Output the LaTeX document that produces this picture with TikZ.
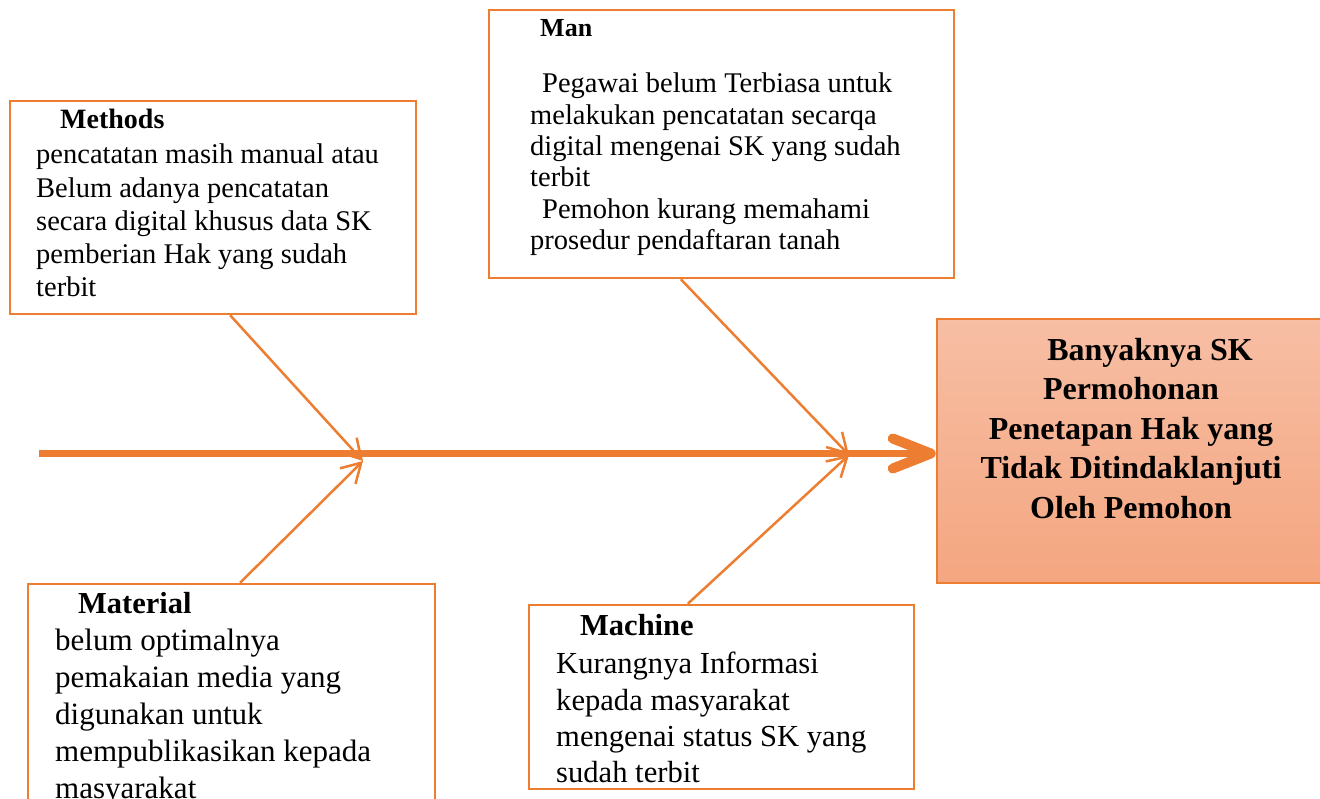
\documentclass[tikz,border=0pt]{standalone}
\usepackage{fontspec}
\setmainfont{Liberation Serif}
\usetikzlibrary{arrows.meta,calc}
\definecolor{fishorange}{HTML}{ED7D31}
\definecolor{headtop}{HTML}{F7BEA4}
\definecolor{headbot}{HTML}{F4A680}
\newcommand{\fsz}[2]{\fontsize{#1}{#2}\selectfont}

\begin{document}
\begin{tikzpicture}[x=1pt,y=-1pt,
  causebox/.style={draw=fishorange, line width=2.5pt, fill=white, inner sep=0pt},
  catlabel/.style={anchor=base west, inner sep=0pt, font=\bfseries},
  causetext/.style={anchor=north west, inner sep=0pt, align=left},
  bone/.style={fishorange, line width=2.5pt, -{Straight Barb[length=19pt,width=22pt]}},
  spine/.style={fishorange, line width=7pt, -{Straight Barb[length=38pt,width=30pt,line width=10pt,round]}}]

\useasboundingbox (0,0) rectangle (1320,799);

% effect box
\node[draw=fishorange, line width=2.5pt, top color=headtop, bottom color=headbot,
      minimum width=385pt, minimum height=264pt] (effect) at (1129.5,451) {};
\node[anchor=north, inner sep=0pt, align=center, font=\bfseries\fsz{32}{39.5}] (effectT) at (1131,338)
  {\hspace*{38pt}Banyaknya SK\\Permohonan\\Penetapan Hak yang\\Tidak Ditindaklanjuti\\Oleh Pemohon};

% cause boxes
\node[causebox, minimum width=406pt, minimum height=213pt] (methods) at (213,207.5) {};
\node[causebox, minimum width=465pt, minimum height=268pt] (man) at (721.5,144) {};
\node[causebox, minimum width=407pt, minimum height=221pt] (material) at (231.5,694.5) {};
\node[causebox, minimum width=385pt, minimum height=184pt] (machine) at (721.5,697) {};

\node[catlabel, font=\bfseries\fsz{28}{33}] (methodsL) at (60,129) {Methods};
\node[causetext, font=\fsz{28.5}{33.25}] (methodsT) at (36,144)
  {pencatatan masih manual atau\\Belum adanya pencatatan\\secara digital khusus data SK\\pemberian Hak yang sudah\\terbit};

\node[catlabel, font=\bfseries\fsz{26}{31}] (manL) at (540,37) {Man};
\node[causetext, font=\fsz{28.5}{31.3}] (manT) at (530,73)
  {\hspace*{12pt}Pegawai belum Terbiasa untuk\\melakukan pencatatan secarqa\\digital mengenai SK yang sudah\\terbit\\\hspace*{12pt}Pemohon kurang memahami\\prosedur pendaftaran tanah};

\node[catlabel, font=\bfseries\fsz{30.5}{36}] (materialL) at (78,613) {Material};
\node[causetext, font=\fsz{31}{37}] (materialT) at (55,629)
  {belum optimalnya\\pemakaian media yang\\digunakan untuk\\mempublikasikan kepada\\masyarakat};

\node[catlabel, font=\bfseries\fsz{30.5}{36}] (machineL) at (580,635) {Machine};
\node[causetext, font=\fsz{30.6}{36.3}] (machineT) at (556,652)
  {Kurangnya Informasi\\kepada masyarakat\\mengenai status SK yang\\sudah terbit};

% spine and bones
\coordinate (tail) at (39,453.5);
\coordinate (jleft) at (363,461);
\coordinate (jright) at (849,455);
\draw[spine] (tail) -- (tail -| effect.west);
\draw[bone] ($(methods.south west)!0.542!(methods.south east)$) -- (jleft);
\draw[bone] ($(material.north west)!0.521!(material.north east)$) -- (jleft);
\draw[bone] ($(man.south west)!0.413!(man.south east)$) -- (jright);
\draw[bone] ($(machine.north west)!0.413!(machine.north east)$) -- (jright);
\end{tikzpicture}
\end{document}
